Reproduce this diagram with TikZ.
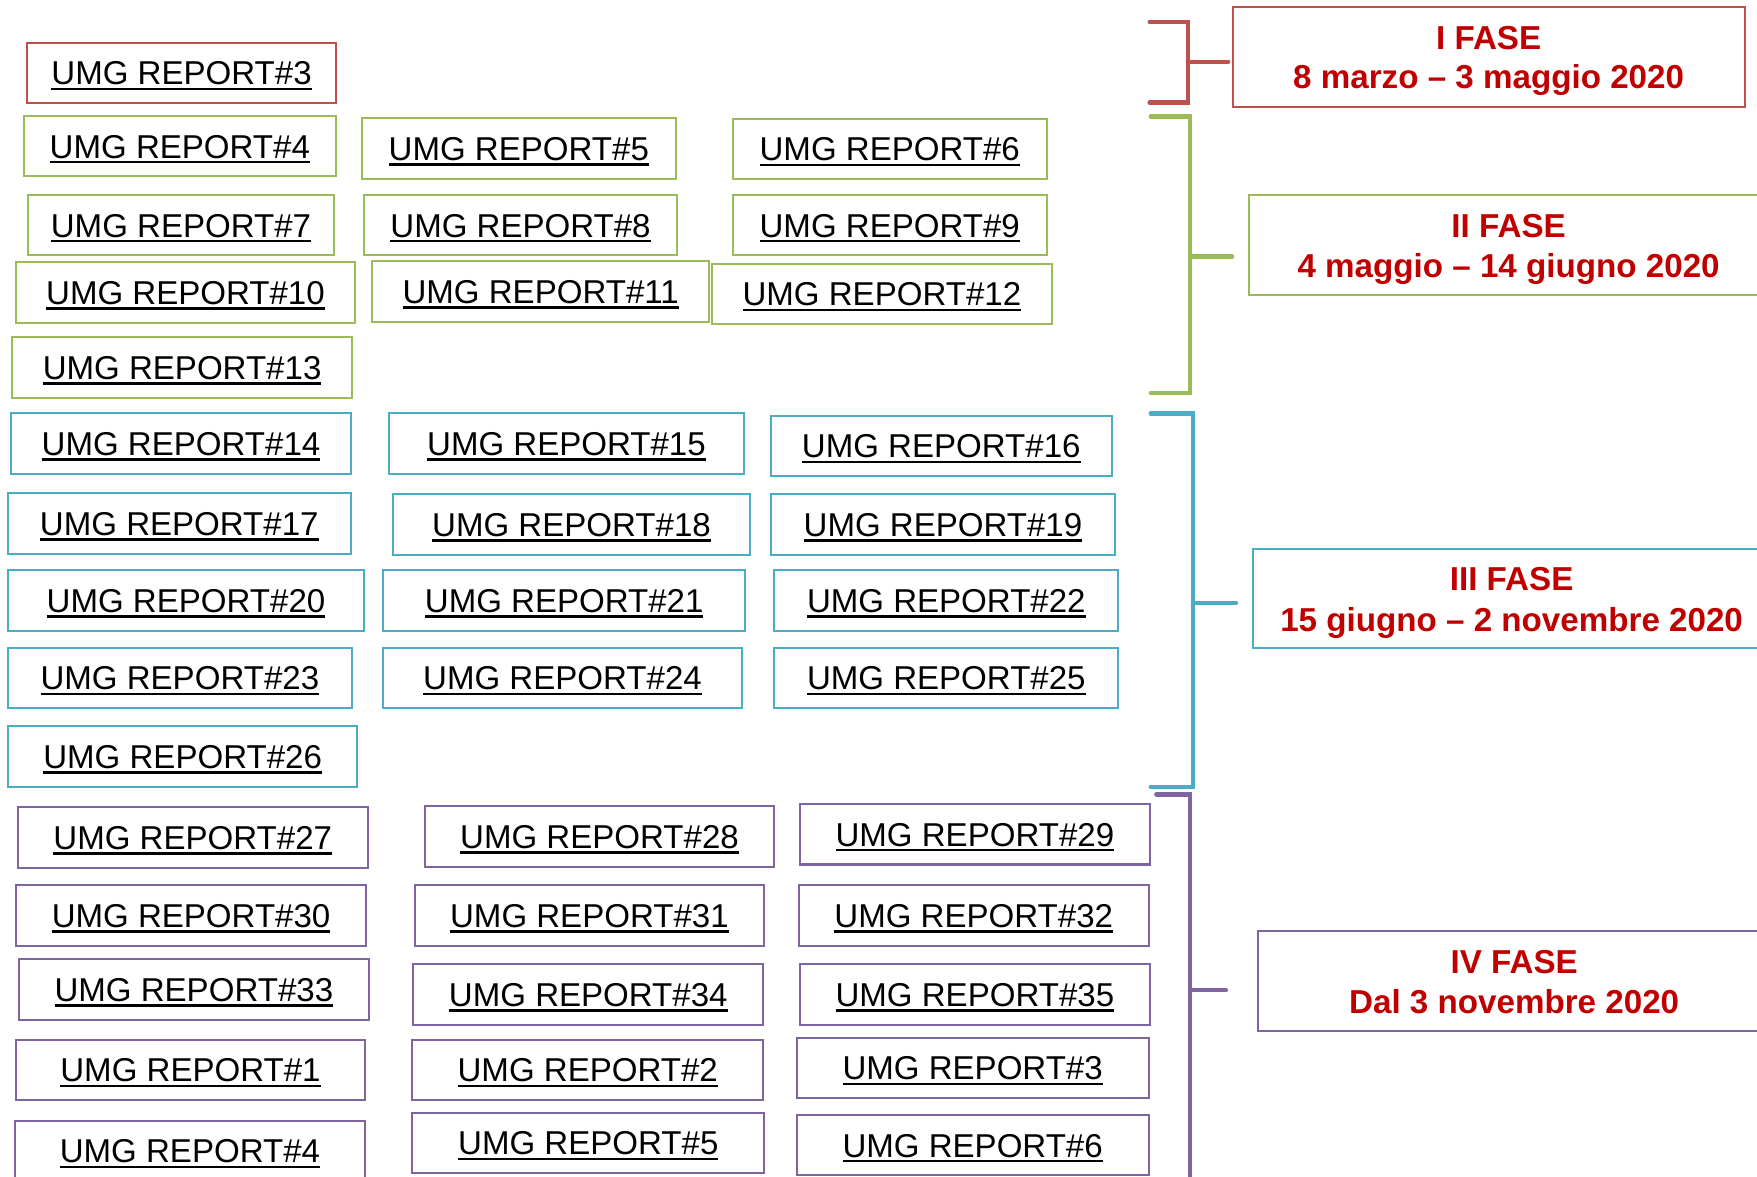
\documentclass[tikz,border=0pt]{standalone}
\usepackage{fontspec}
\setmainfont{Liberation Sans}
\definecolor{cred}{HTML}{C0504D}
\definecolor{cgreen}{HTML}{9BBB59}
\definecolor{cblue}{HTML}{4BACC6}
\definecolor{cpurple}{HTML}{8064A2}
\definecolor{ftext}{HTML}{C00000}
\newcommand\umgul[1]{\setbox0=\hbox{#1}\rlap{\rule[-2.4pt]{\wd0}{1.1pt}}\box0}
\tikzset{
 repbox/.style={draw=#1, line width=0.9pt, inner sep=0pt, minimum height=27pt,
   text height=10.55pt, text depth=0pt, font=\fontsize{14.75pt}{17pt}\selectfont},
 fasebox/.style={draw=#1, line width=0.9pt, inner sep=0pt, minimum height=44.5pt},
 fasetxt/.style={text=ftext, inner sep=0pt, text height=10.55pt, text depth=0pt,
   font=\fontsize{14.8pt}{17pt}\selectfont\bfseries},
 brk/.style={draw=#1, line width=1.9pt, line join=miter, line cap=round},
 brkshadow/.style={draw=black!20, line width=1.9pt, line cap=round, xshift=0.6pt, yshift=-1.3pt}
}
\newcommand\rep[6]{\node[repbox=#2, minimum width=#5*0.5pt] (#1) at (#3,#4) {\umgul{UMG REPORT\##6}};}
\begin{document}
\begin{tikzpicture}[x=0.5pt, y=-0.5pt]
\useasboundingbox (0,0) rectangle (1568,1050);
% ---- report boxes
\rep{r3a}{cred}{162}{65}{276}{3}
\rep{r4}{cgreen}{160.5}{130.5}{279}{4}
\rep{r5}{cgreen}{463}{132.5}{280}{5}
\rep{r6}{cgreen}{794}{133}{280}{6}
\rep{r7}{cgreen}{161.5}{201}{273}{7}
\rep{r8}{cgreen}{464.5}{201}{279}{8}
\rep{r9}{cgreen}{794}{201}{280}{9}
\rep{r10}{cgreen}{165.5}{261}{303}{10}
\rep{r11}{cgreen}{482.5}{260}{301}{11}
\rep{r12}{cgreen}{787}{262.5}{304}{12}
\rep{r13}{cgreen}{162.5}{328}{303}{13}
\rep{r14}{cblue}{161.5}{396}{303}{14}
\rep{r15}{cblue}{505.5}{396}{317}{15}
\rep{r16}{cblue}{840}{398}{304}{16}
\rep{r17}{cblue}{160}{467}{306}{17}
\rep{r18}{cblue}{510}{468}{318}{18}
\rep{r19}{cblue}{841.5}{468}{307}{19}
\rep{r20}{cblue}{166}{536}{318}{20}
\rep{r21}{cblue}{503.5}{536}{323}{21}
\rep{r22}{cblue}{844.5}{536}{307}{22}
\rep{r23}{cblue}{160.5}{605}{307}{23}
\rep{r24}{cblue}{502}{605}{320}{24}
\rep{r25}{cblue}{844.5}{605}{307}{25}
\rep{r26}{cblue}{163}{675}{312}{26}
\rep{r27}{cpurple}{172}{747.5}{312}{27}
\rep{r28}{cpurple}{535}{746.5}{312}{28}
\rep{r29}{cpurple}{870}{744.5}{312}{29}
\rep{r30}{cpurple}{170.5}{817}{313}{30}
\rep{r31}{cpurple}{526}{817}{312}{31}
\rep{r32}{cpurple}{869}{817}{312}{32}
\rep{r33}{cpurple}{173}{883}{312}{33}
\rep{r34}{cpurple}{525}{887.5}{312}{34}
\rep{r35}{cpurple}{870}{887.5}{312}{35}
\rep{s1}{cpurple}{170}{955}{312}{1}
\rep{s2}{cpurple}{524.5}{955}{313}{2}
\rep{s3}{cpurple}{868}{953}{314}{3}
\rep{s4}{cpurple}{169.5}{1027}{313}{4}
\rep{s5}{cpurple}{525}{1020}{314}{5}
\rep{s6}{cpurple}{868}{1022}{314}{6}
% ---- phase boxes
\node[fasebox=cred, minimum width=228.5pt] (f1) at (1328.5,50.8) {};
\node[fasetxt] (f1a) at (1328.5,33.6) {I FASE};
\node[fasetxt] (f1b) at (1328.5,68.7) {8 marzo – 3 maggio 2020};
\node[fasebox=cgreen, minimum width=231pt] (f2) at (1346,218.4) {};
\node[fasetxt] (f2a) at (1346.3,201.5) {II FASE};
\node[fasetxt] (f2b) at (1346.3,237.1) {4 maggio – 14 giugno 2020};
\node[fasebox=cblue, minimum width=232pt] (f3) at (1350,534) {};
\node[fasetxt] (f3a) at (1349,516.4) {III FASE};
\node[fasetxt] (f3b) at (1349,552.6) {15 giugno – 2 novembre 2020};
\node[fasebox=cpurple, minimum width=229pt] (f4) at (1351.5,875.2) {};
\node[fasetxt] (f4a) at (1351.3,858.5) {IV FASE};
\node[fasetxt] (f4b) at (1351.3,893.7) {Dal 3 novembre 2020};
% ---- brackets
\coordinate (b1a) at (1026,19.5); \coordinate (b1b) at (1060,19.5);
\coordinate (b1c) at (1060,91.5); \coordinate (b1d) at (1026,91.5);
\coordinate (b1m) at (1060,55);   \coordinate (b1s) at (1096,55);
\coordinate (b2a) at (1027,104);  \coordinate (b2b) at (1062,104);
\coordinate (b2c) at (1062,350.5);\coordinate (b2d) at (1027,350.5);
\coordinate (b2m) at (1062,229);  \coordinate (b2s) at (1099.5,229);
\coordinate (b3a) at (1027,369);  \coordinate (b3b) at (1064.5,369);
\coordinate (b3c) at (1064.5,702);\coordinate (b3d) at (1027,702);
\coordinate (b3m) at (1064.5,538);\coordinate (b3s) at (1103,538);
\coordinate (b4a) at (1032,709);  \coordinate (b4b) at (1062,709);
\coordinate (b4c) at (1062,1070);
\coordinate (b4m) at (1062,883.5);\coordinate (b4s) at (1094,883.5);
% shadows
\draw[brkshadow] (b1a) -- (b1b) -- (b1c) -- (b1d);
\draw[brkshadow] (b1m) -- (b1s);
\draw[brkshadow] (b2a) -- (b2b) -- (b2c) -- (b2d);
\draw[brkshadow] (b2m) -- (b2s);
\draw[brkshadow] (b3a) -- (b3b) -- (b3c) -- (b3d);
\draw[brkshadow] (b3m) -- (b3s);
\draw[brkshadow] (b4a) -- (b4b) -- (b4c);
\draw[brkshadow] (b4m) -- (b4s);
% lines
\draw[brk=cred] (b1a) -- (b1b) -- (b1c) -- (b1d);
\draw[brk=cred] (b1m) -- (b1s);
\draw[brk=cgreen] (b2a) -- (b2b) -- (b2c) -- (b2d);
\draw[brk=cgreen] (b2m) -- (b2s);
\draw[brk=cblue] (b3a) -- (b3b) -- (b3c) -- (b3d);
\draw[brk=cblue] (b3m) -- (b3s);
\draw[brk=cpurple] (b4a) -- (b4b) -- (b4c);
\draw[brk=cpurple] (b4m) -- (b4s);
\end{tikzpicture}
\end{document}
